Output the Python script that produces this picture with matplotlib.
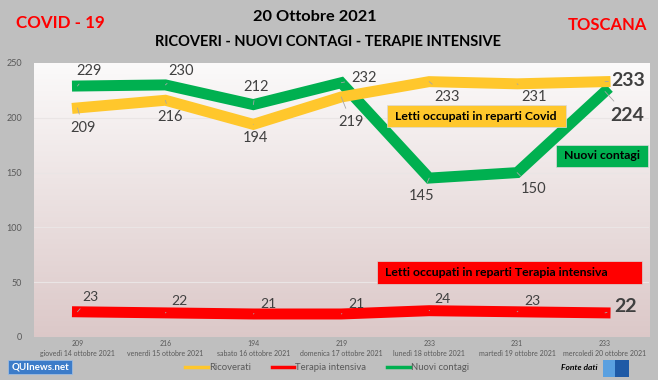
import numpy as np
import matplotlib
matplotlib.use("Agg")
import matplotlib.pyplot as plt
from matplotlib.lines import Line2D
from matplotlib.patches import Rectangle

plt.rcParams['font.family'] = ['Lato', 'DejaVu Sans']

# data
days = ['giovedì 14 ottobre 2021', 'venerdì 15 ottobre 2021', 'sabato 16 ottobre 2021',
        'domenica 17 ottobre 2021', 'lunedì 18 ottobre 2021', 'martedì 19 ottobre 2021',
        'mercoledì 20 ottobre 2021']
ricoverati = [209, 216, 194, 219, 233, 231, 233]
terapia = [23, 22, 21, 21, 24, 23, 22]
contagi = [229, 230, 212, 232, 145, 150, 224]

# label offsets (pixels) for each data label
off_ric = [(6, -20), (5, -17), (2, -14), (10, -25), (18, -15), (17, -13), (23, 1)]
off_ter = [(13, 15), (14, 12), (15, 10), (15, 10), (13, 12), (15, 11), (20, 6)]
off_con = [(12, 15), (16, 14), (3, 18), (23, 5), (-8, -18), (16, -16), (22, -24)]

YELLOW = '#FFC72C'
RED = '#FF0000'
GREEN = '#00B050'
TXT = '#404040'

fig = plt.figure(figsize=(6.58, 3.8), dpi=100, facecolor='#BFBFBF')
ax = fig.add_axes([33.5 / 658, 43 / 380, 615.5 / 658, 274 / 380])
ax.set_xlim(-0.5, 6.5)
ax.set_ylim(0, 250)

# gradient background
grad = np.linspace(0, 1, 256).reshape(-1, 1)
top = np.array([0.985, 0.98, 0.98])
bot = np.array([0.862, 0.785, 0.785])
img = top + (bot - top) * grad[:, :, None]
ax.imshow(img, extent=(-0.5, 6.5, 0, 250), origin='upper', aspect='auto', zorder=0)

for s in ax.spines.values():
    s.set_visible(False)
ax.set_yticks([0, 50, 100, 150, 200, 250])
ax.tick_params(axis='y', length=0, pad=8, labelsize=6.5, labelcolor='#595959')
ax.set_xticks(range(7))
ax.set_xticklabels([f'{v}\n{d}' for v, d in zip(ricoverati, days)], fontsize=5,
                   color='#595959', linespacing=1.5)
ax.tick_params(axis='x', length=0, pad=2)
for yv in [50, 100, 150, 200]:
    ax.axhline(yv, color='#EAE5E5', lw=0.8, zorder=1)

x = np.arange(7)
kw = dict(lw=7.9, solid_capstyle='projecting', solid_joinstyle='miter', zorder=3)
ax.plot(x, contagi, color=GREEN, **kw)
ax.plot(x, ricoverati, color=YELLOW, **kw)
ax.plot(x, terapia, color=RED, **kw)


def labels(vals, offs, fs):
    for i, (v, (dx, dy)) in enumerate(zip(vals, offs)):
        last = i == len(vals) - 1
        ax.annotate(str(v), xy=(i, v), xytext=(dx, dy), textcoords='offset pixels',
                    ha='center', va='center', color=TXT,
                    fontsize=14 if last else fs, fontweight='bold' if last else 'normal',
                    zorder=5,
                    arrowprops=dict(arrowstyle='-', color='#A6A6A6', lw=0.6,
                                    shrinkA=3, shrinkB=0))


labels(contagi, off_con, 10.5)
labels(ricoverati, off_ric, 10.5)
labels(terapia, off_ter, 10)


# coloured boxes
def box(x0, y0, x1, y1, color, text):
    fig.add_artist(Rectangle((x0 / 658, 1 - y1 / 380), (x1 - x0) / 658, (y1 - y0) / 380,
                             transform=fig.transFigure, facecolor=color,
                             edgecolor='#d9d9d9', lw=0.5, zorder=6))
    fig.text((x0 + 8) / 658, 1 - (y0 + y1) / 2 / 380, text, ha='left', va='center',
             fontsize=8.8, fontweight='bold', color='black', zorder=7)


box(387, 105, 566, 127, YELLOW, 'Letti occupati in reparti Covid')
box(556, 145, 648, 167, GREEN, 'Nuovi contagi')
box(377, 261, 642, 284, RED, 'Letti occupati in reparti Terapia intensiva')

# titles
fig.text(315 / 658, 1 - 17 / 380, '20 Ottobre 2021', ha='center', va='center',
         fontsize=11.8, fontweight='bold', color='black')
fig.text(328 / 658, 1 - 42 / 380, 'RICOVERI - NUOVI CONTAGI - TERAPIE INTENSIVE',
         ha='center', va='center', fontsize=10.5, fontweight='bold', color='black')
fig.text(60 / 658, 1 - 23 / 380, 'COVID - 19', ha='center', va='center',
         fontsize=12.2, fontweight='bold', color=RED)
fig.text(607 / 658, 1 - 25 / 380, 'TOSCANA', ha='center', va='center',
         fontsize=12, fontweight='bold', color=RED)

# legend
handles = [Line2D([], [], color=YELLOW, lw=2.5, label='Ricoverati'),
           Line2D([], [], color=RED, lw=2.5, label='Terapia intensiva'),
           Line2D([], [], color=GREEN, lw=2.5, label='Nuovi contagi')]
leg = fig.legend(handles=handles, loc='center', bbox_to_anchor=(0.497, 1 - 368 / 380),
                 ncol=3, frameon=False, fontsize=6.8, handlelength=2.4,
                 handletextpad=0.1, columnspacing=2.2)
for t in leg.get_texts():
    t.set_color('#595959')

# logos
fig.text(40 / 658, 1 - 367 / 380, 'QUInews.net', ha='center', va='center', fontsize=7,
         fontweight='bold', color='white',
         bbox=dict(boxstyle='square,pad=0.3', facecolor='#3C7CC9', edgecolor='#9dbbe0', lw=0.6))
fig.text(579 / 658, 1 - 368 / 380, 'Fonte dati', ha='center', va='center', fontsize=6,
         fontweight='bold', fontstyle='italic', color='black')
fig.add_artist(Rectangle((603 / 658, 1 - 377 / 380), 12 / 658, 17 / 380,
                         transform=fig.transFigure, facecolor='#5AA0E0', zorder=6))
fig.add_artist(Rectangle((615 / 658, 1 - 377 / 380), 14 / 658, 17 / 380,
                         transform=fig.transFigure, facecolor='#1F5AA6', zorder=6))

fig.savefig('out.png', dpi=100, facecolor=fig.get_facecolor())
